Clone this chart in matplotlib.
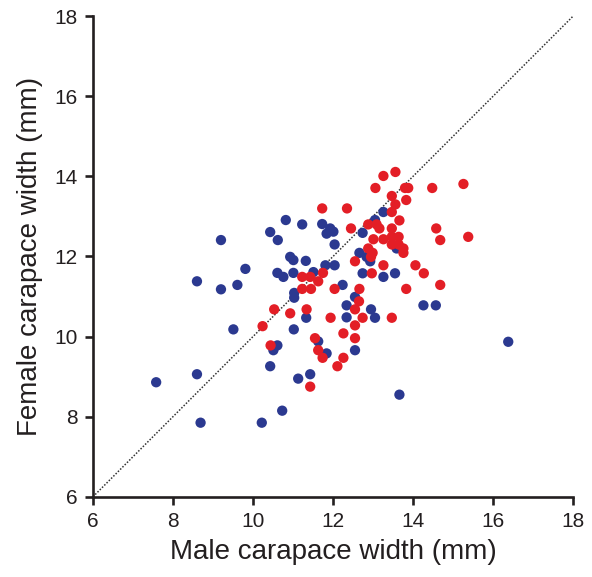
import matplotlib
matplotlib.use('Agg')
import matplotlib.pyplot as plt

plt.rcParams['font.family'] = ['Liberation Sans', 'DejaVu Sans']

# blue group (male width, female width)
blue_x = [7.58, 8.6, 8.6, 8.69, 9.2, 9.2, 9.51, 9.61, 9.81, 10.22, 10.43, 10.43,
          10.51, 10.61, 10.61, 10.62, 10.73, 10.76, 10.82, 10.93, 11.01, 11.01,
          11.02, 11.03, 11.03, 11.13, 11.23, 11.32, 11.33, 11.43, 11.51, 11.63,
          11.73, 11.81, 11.84, 11.84, 11.93, 12.01, 12.04, 12.04, 12.24, 12.34,
          12.34, 12.55, 12.55, 12.66, 12.74, 12.74, 12.84, 12.93, 12.95, 13.05,
          13.05, 13.26, 13.26, 13.55, 13.59, 13.66, 14.26, 14.57, 16.38]
blue_y = [8.86, 9.06, 11.38, 7.85, 12.41, 11.18, 10.18, 11.29, 11.69, 7.85, 12.61, 9.26,
          9.66, 9.78, 11.59, 12.41, 8.15, 11.49, 12.91, 11.99, 11.91, 11.59,
          10.18, 11.09, 10.97, 8.95, 12.8, 11.89, 10.47, 9.06, 11.61, 9.88,
          12.81, 11.78, 12.57, 9.58, 12.7, 12.62, 12.3, 11.78, 11.29, 10.78,
          10.48, 10.99, 9.66, 12.09, 12.59, 11.58, 11.99, 11.88, 10.68, 12.91,
          10.47, 13.11, 11.49, 11.58, 12.2, 8.55, 10.78, 10.78, 9.87]

# red group
red_x = [10.24, 10.44, 10.53, 10.93, 11.23, 11.23, 11.34, 11.43, 11.43, 11.45,
         11.55, 11.63, 11.63, 11.73, 11.74, 11.75, 11.94, 12.04, 12.11, 12.26,
         12.26, 12.35, 12.45, 12.55, 12.55, 12.55, 12.55, 12.65, 12.66, 12.74,
         12.88, 12.88, 12.95, 12.97, 12.99, 13.01, 13.06, 13.09, 13.16, 13.26,
         13.26, 13.26, 13.47, 13.47, 13.47, 13.47, 13.47, 13.47, 13.56, 13.56,
         13.64, 13.64, 13.66, 13.76, 13.76, 13.8, 13.83, 13.83, 13.88, 14.06,
         14.27, 14.48, 14.58, 14.68, 14.68, 15.26, 15.38]
red_y = [10.26, 9.78, 10.68, 10.58, 11.49, 11.19, 10.68, 11.49, 8.75, 11.19,
         9.96, 11.38, 9.66, 13.2, 9.47, 11.59, 10.47, 11.19, 9.26, 10.08,
         9.47, 13.2, 12.7, 11.88, 10.68, 10.28, 9.96, 10.88, 11.19, 10.47,
         12.8, 12.2, 11.99, 11.58, 12.09, 12.43, 13.71, 12.8, 12.7, 14.01,
         12.43, 11.78, 13.51, 13.11, 12.7, 12.49, 12.3, 10.47, 14.11, 13.3,
         12.49, 12.3, 12.9, 12.2, 12.09, 13.71, 13.41, 11.19, 13.71, 11.78,
         11.58, 13.71, 12.7, 12.41, 11.29, 13.81, 12.49]

ticks = [6, 8, 10, 12, 14, 16, 18]

fig = plt.figure(figsize=(5.92, 5.77), dpi=100)
ax = fig.add_axes([0.157, 0.139, 0.811, 0.833])

ax.plot([6, 18], [6, 18], color='#333333', linestyle=(0, (1, 1.1)), linewidth=1.1, zorder=1)
ax.scatter(blue_x, blue_y, s=55, color='#2b3990', edgecolors='none', zorder=2)
ax.scatter(red_x, red_y, s=55, color='#e31e26', edgecolors='none', zorder=3)

ax.set_xlim(6, 18)
ax.set_ylim(6, 18)
ax.set_xticks(ticks)
ax.set_yticks(ticks)
for side in ['top', 'right']:
    ax.spines[side].set_visible(False)
for side in ['left', 'bottom']:
    ax.spines[side].set_linewidth(1.9)
    ax.spines[side].set_color('#231f20')
ax.tick_params(direction='out', length=6, width=1.9, labelsize=15,
               colors='#231f20', pad=5)

ax.set_xlabel('Male carapace width (mm)', fontsize=20, color='#231f20', labelpad=6)
ax.set_ylabel('Female carapace width (mm)', fontsize=20, color='#231f20', labelpad=8)

fig.savefig('out.png', dpi=100)
